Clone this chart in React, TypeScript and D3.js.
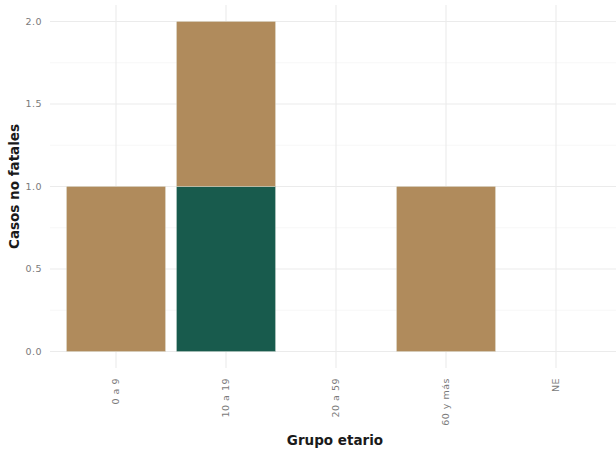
import { useEffect, useRef } from "react";
import * as d3 from "d3";

const grupos = ["0 a 9", "10 a 19", "20 a 59", "60 y más", "NE"];
// two stacked fill groups (no legend shown)
const serieVerde = [0, 1, 0, 0, 0];
const serieCafe = [1, 1, 0, 1, 0];
const yTicks = [0, 0.5, 1, 1.5, 2];
const yMinor = [0.25, 0.75, 1.25, 1.75];

const colores = { verde: "#185b4d", cafe: "#b08b5c" };

const App = () => {
  const ref = useRef<SVGSVGElement>(null);

  useEffect(() => {
    const width = 616;
    const height = 454;
    const panel = { left: 50, right: 616, top: 5, bottom: 368 };

    const svg = d3.select(ref.current);
    svg.selectAll("*").remove();

    const x = d3.scaleBand().domain(grupos).range([61, 611]).padding(0);
    const y = d3.scaleLinear().domain([-0.1, 2.1]).range([panel.bottom, panel.top]);

    const g = svg.append("g");

    // minor grid
    g.selectAll(".minor")
      .data(yMinor)
      .enter()
      .append("line")
      .attr("x1", panel.left)
      .attr("x2", panel.right)
      .attr("y1", (d) => y(d))
      .attr("y2", (d) => y(d))
      .attr("stroke", "#f2f2f2")
      .attr("stroke-width", 0.6);

    // major grid
    g.selectAll(".major")
      .data(yTicks)
      .enter()
      .append("line")
      .attr("x1", panel.left)
      .attr("x2", panel.right)
      .attr("y1", (d) => y(d))
      .attr("y2", (d) => y(d))
      .attr("stroke", "#ebebeb")
      .attr("stroke-width", 1.1);

    g.selectAll(".vgrid")
      .data(grupos)
      .enter()
      .append("line")
      .attr("x1", (d) => (x(d) || 0) + x.bandwidth() / 2)
      .attr("x2", (d) => (x(d) || 0) + x.bandwidth() / 2)
      .attr("y1", panel.top)
      .attr("y2", panel.bottom)
      .attr("stroke", "#ebebeb")
      .attr("stroke-width", 1.1);

    // stacked bars
    const filas = grupos.map((grupo, i) => ({
      grupo,
      verde: serieVerde[i],
      cafe: serieCafe[i],
    }));
    const stack = d3.stack<any>().keys(["verde", "cafe"])(filas);
    const bw = x.bandwidth() * 0.9;

    stack.forEach((capa) => {
      g.selectAll(".bar-" + capa.key)
        .data(capa.filter((d) => d[1] - d[0] > 0))
        .enter()
        .append("rect")
        .attr("x", (d) => (x(d.data.grupo) || 0) + (x.bandwidth() - bw) / 2)
        .attr("y", (d) => y(d[1]))
        .attr("width", bw)
        .attr("height", (d) => y(d[0]) - y(d[1]))
        .attr("fill", (colores as any)[capa.key])
        .attr("stroke", "#e8eee9")
        .attr("stroke-width", 0.3);
    });

    const font = "'DejaVu Sans', Verdana, sans-serif";

    // y tick labels
    g.selectAll(".ylab")
      .data(yTicks)
      .enter()
      .append("text")
      .attr("x", 42)
      .attr("y", (d) => y(d))
      .attr("dy", "0.35em")
      .attr("text-anchor", "end")
      .attr("font-family", font)
      .attr("font-size", 9.5)
      .attr("letter-spacing", 0.5)
      .attr("fill", "#7a7a7a")
      .text((d) => d.toFixed(1));

    // x tick labels
    g.selectAll(".xlab")
      .data(grupos)
      .enter()
      .append("text")
      .attr(
        "transform",
        (d) => `translate(${(x(d) || 0) + x.bandwidth() / 2},378) rotate(-90)`
      )
      .attr("dy", "0.35em")
      .attr("text-anchor", "end")
      .attr("font-family", font)
      .attr("font-size", 9.5)
      .attr("letter-spacing", 0.5)
      .attr("fill", "#7a7a7a")
      .text((d) => d);

    // axis titles
    svg
      .append("text")
      .attr("x", 335)
      .attr("y", 445)
      .attr("text-anchor", "middle")
      .attr("font-family", font)
      .attr("font-size", 13.5)
      .attr("font-weight", "bold")
      .attr("fill", "#1a1a1a")
      .text("Grupo etario");

    svg
      .append("text")
      .attr("transform", `translate(19,${(panel.top + panel.bottom) / 2}) rotate(-90)`)
      .attr("text-anchor", "middle")
      .attr("font-family", font)
      .attr("font-size", 13.5)
      .attr("font-weight", "bold")
      .attr("fill", "#1a1a1a")
      .text("Casos no fatales");

    svg.attr("width", width).attr("height", height);
  }, []);

  return (
    <svg
      ref={ref}
      width={616}
      height={454}
      style={{ position: "absolute", left: 0, top: 0, background: "#fff" }}
    />
  );
};

export default App;
